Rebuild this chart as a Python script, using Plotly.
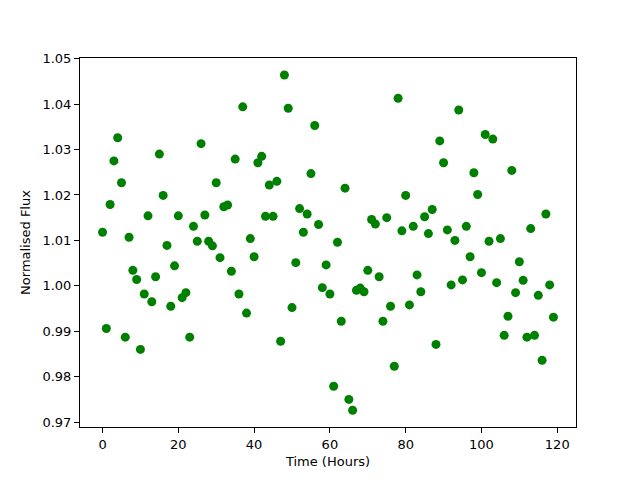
import plotly.graph_objects as go

hours = list(range(120))
flux = [
    1.0118, 0.9906, 1.0179, 1.0275, 1.0326, 1.0227, 0.9887, 1.0107, 1.0034, 1.0014,
    0.9860, 0.9982, 1.0154, 0.9965, 1.0020, 1.0290, 1.0199, 1.0089, 0.9955, 1.0044,
    1.0154, 0.9974, 0.9985, 0.9887, 1.0131, 1.0098, 1.0313, 1.0156, 1.0098, 1.0088,
    1.0227, 1.0062, 1.0174, 1.0178, 1.0032, 1.0279, 0.9982, 1.0394, 0.9940, 1.0104,
    1.0064, 1.0271, 1.0285, 1.0153, 1.0222, 1.0153, 1.0230, 0.9878, 1.0464, 1.0391,
    0.9952, 1.0051, 1.0170, 1.0118, 1.0158, 1.0247, 1.0353, 1.0135, 0.9996, 1.0046,
    0.9982, 0.9779, 1.0096, 0.9922, 1.0215, 0.9750, 0.9726, 0.9990, 0.9995, 0.9987,
    1.0034, 1.0146, 1.0136, 1.0020, 0.9922, 1.0150, 0.9955, 0.9823, 1.0413, 1.0121,
    1.0199, 0.9958, 1.0131, 1.0024, 0.9987, 1.0152, 1.0115, 1.0168, 0.9871, 1.0319,
    1.0271, 1.0123, 1.0002, 1.0100, 1.0387, 1.0013, 1.0131, 1.0064, 1.0249, 1.0201,
    1.0029, 1.0333, 1.0098, 1.0323, 1.0007, 1.0104, 0.9891, 0.9933, 1.0254, 0.9985,
    1.0053, 1.0012, 0.9887, 1.0126, 0.9891, 0.9979, 0.9836, 1.0158, 1.0002, 0.9931,
]
x_ticks = [0, 20, 40, 60, 80, 100, 120]
y_ticks = [0.97, 0.98, 0.99, 1.00, 1.01, 1.02, 1.03, 1.04, 1.05]

fig = go.Figure(
    go.Scatter(
        x=hours, y=flux, mode="markers",
        marker=dict(color="#008000", size=9, line=dict(width=0)),
        hoverinfo="skip",
    )
)

axis_common = dict(
    showgrid=False, zeroline=False, showline=True, mirror=True,
    linecolor="black", linewidth=1, ticks="outside", ticklen=5,
    tickwidth=1, tickcolor="black",
    tickfont=dict(family="DejaVu Sans", size=13, color="black"),
)

# page body has an 8px margin, so the figure is sized/margined to land the
# axes box where the reference has it
fig.update_layout(
    width=632, height=472,
    paper_bgcolor="white", plot_bgcolor="white",
    margin=dict(l=72, r=64, t=50, b=53),
    showlegend=False,
    font=dict(family="DejaVu Sans", size=13, color="black"),
    xaxis=dict(
        range=[-5.95, 124.95], tickvals=x_ticks,
        title=dict(text="Time (Hours)", standoff=6,
                   font=dict(family="DejaVu Sans", size=13, color="black")),
        **axis_common,
    ),
    yaxis=dict(
        range=[0.96892, 1.05015], tickvals=y_ticks, tickformat=".2f",
        title=dict(text="Normalised Flux", standoff=8,
                   font=dict(family="DejaVu Sans", size=13, color="black")),
        **axis_common,
    ),
)

fig.write_html("out.html")
